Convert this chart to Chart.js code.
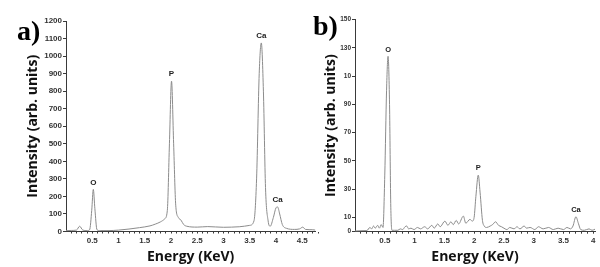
<!DOCTYPE html>
<html>
<head>
<meta charset="utf-8">
<script src="https://cdn.jsdelivr.net/npm/chart.js@4"></script>
<style>
  html,body{margin:0;padding:0;background:#fff;}
  #wrap{position:relative;width:600px;height:267px;overflow:hidden;}
  canvas{position:absolute;top:0;}
  #ca{left:0;}
  #cb{left:320px;}
  .lbl{position:absolute;font-family:'Liberation Serif','Times New Roman',serif;font-weight:bold;font-size:28px;color:#000;line-height:1;}
</style>
</head>
<body>
<div id="wrap">
  <canvas id="ca" width="320" height="267"></canvas>
  <canvas id="cb" width="280" height="267"></canvas>
  <div class="lbl" style="left:17px;top:17px;">a)</div>
  <div class="lbl" style="left:313px;top:12px;">b)</div>
</div>
<script>
// ---- Panel a data (energy keV, intensity) ----
const energyA = [0.00,0.10,0.20,0.26,0.32,0.40,0.45,0.49,0.52,0.55,0.59,0.65,0.80,1.00,1.20,1.40,1.60,1.70,1.80,1.88,1.93,1.97,2.01,2.05,2.09,2.14,2.19,2.24,2.30,2.50,2.70,3.00,3.30,3.50,3.58,3.63,3.68,3.72,3.76,3.80,3.85,3.89,3.95,4.00,4.03,4.07,4.12,4.20,4.35,4.45,4.51,4.56,4.70,4.75];
const intensityA = [5,6,8,30,8,5,10,120,240,130,10,5,5,8,14,22,32,42,55,72,120,500,857,500,150,80,65,40,30,25,28,24,27,35,60,300,900,1075,800,250,60,30,80,135,140,100,40,18,12,15,25,12,10,8];
// ---- Panel b data ----
const energyB = [0.00,0.10,0.20,0.25,0.28,0.31,0.34,0.38,0.41,0.44,0.47,0.50,0.53,0.555,0.58,0.60,0.62,0.66,0.72,0.76,0.80,0.84,0.87,0.90,0.94,0.99,1.05,1.10,1.17,1.22,1.29,1.33,1.39,1.43,1.51,1.56,1.61,1.65,1.70,1.74,1.82,1.86,1.93,1.97,2.00,2.03,2.07,2.10,2.14,2.17,2.21,2.27,2.31,2.36,2.41,2.46,2.52,2.55,2.60,2.67,2.72,2.77,2.84,2.88,2.94,3.02,3.08,3.16,3.25,3.33,3.41,3.50,3.56,3.62,3.66,3.71,3.75,3.79,3.85,3.93,3.98,4.04];
const intensityB = [0.5,0.7,0.8,3,2,4,2.5,4.5,2.5,5,3,40,100,124,90,20,1,1,1,2,1.5,3.5,4,2,2.5,1.5,3,2,3.5,2,4.5,2.5,5.5,3.5,7.5,4.5,7,5,8,5.5,11,6,8.7,7.5,10,25,40,28,8,4,3,4,5,7,4.5,3.5,2,1.5,3,2,3.5,2,4,2.5,3,1.5,3.5,2,3,1.5,2.5,1.5,3,2,4,10.6,6,1.5,1,2,1,2];
// ---- ticks ----
const yTicksA = [0,100,200,300,400,500,600,700,800,900,1000,1100,1200];
const xTicksA = [0.5,1,1.5,2,2.5,3,3.5,4,4.5];
const yTicksB = [0,10,30,50,70,90,110,130,150];
const yTickLabelsB = ['0','10','30','50','70','90','10','130','150'];
const xTicksB = [0.5,1,1.5,2,2.5,3,3.5,4];
// ---- peak labels ----
const peakNamesA = ['O','P','Ca','Ca'];
const peakEnergiesA = [0.52,2.01,3.72,4.03];
const peakNamesB = ['O','P','Ca'];
const peakEnergiesB = [0.555,2.07,3.71];
const xTitle = 'Energy (KeV)';
const yTitle = 'Intensity (arb. units)';

const AX = '#3a3a3a';
const TICKFONT = {family:"'Liberation Sans', Arial, sans-serif", weight:'bold', size:8};
const TITLEFONT = {family:"'Open Sans', sans-serif", weight:'bold', size:14};

function peakPlugin(names, energies, xs, ys, fontSize){
  return {
    id:'peaks',
    afterDatasetsDraw(chart){
      const ctx = chart.ctx, sx = chart.scales.x, sy = chart.scales.y;
      ctx.save();
      ctx.fillStyle = '#222';
      ctx.font = 'bold ' + fontSize + "px 'Liberation Sans', Arial, sans-serif";
      ctx.textAlign = 'center';
      ctx.textBaseline = 'bottom';
      names.forEach((n,i)=>{
        const e = energies[i];
        let best = 0, bd = 1e9;
        xs.forEach((x,j)=>{ const d = Math.abs(x-e); if (d<bd){bd=d;best=j;} });
        const px = sx.getPixelForValue(e);
        const py = sy.getPixelForValue(ys[best]);
        ctx.fillText(n, px, py - 3);
      });
      ctx.restore();
    }
  };
}

function makeChart(id, xs, ys, cfg){
  const minor = [];
  for (let i = 1; i <= Math.round(cfg.xmax*10); i++) minor.push(i/10);
  return new Chart(document.getElementById(id), {
    type:'line',
    data:{datasets:[{data: xs.map((x,i)=>({x:x, y:ys[i]})), borderColor:'#8c8c8c', borderWidth:1, pointRadius:0, cubicInterpolationMode:'monotone', fill:false}]},
    options:{
      responsive:false, animation:false, maintainAspectRatio:false,
      layout:{padding:{left:0, right:cfg.padRight, top:cfg.top, bottom:0}},
      plugins:{legend:{display:false}, tooltip:{enabled:false}},
      scales:{
        x:{type:'linear', min:0, max:cfg.xmax,
          border:{color:AX, width:1},
          grid:{drawOnChartArea:false, tickLength:2, color:AX},
          afterBuildTicks: s => { s.ticks = minor.map(v=>({value:v})); },
          ticks:{autoSkip:false, maxRotation:0, padding:2, color:'#333', font:TICKFONT,
            callback: v => { const r = Math.round(v*10)/10; return cfg.xTicks.includes(r) ? String(r) : ''; }},
          afterFit: s => { s.height = cfg.xAxisH; },
          title:{display:true, text:xTitle, color:'#111', font:TITLEFONT, padding:{top:0,bottom:cfg.xTitlePad}}
        },
        y:{type:'linear', min:0, max:cfg.ymax,
          border:{color:AX, width:1},
          grid:{drawOnChartArea:false, tickLength:3, color:AX},
          afterBuildTicks: s => { s.ticks = cfg.yTicks.map(v=>({value:v})); },
          ticks:{autoSkip:false, padding:1, color:'#333', font:cfg.yFont,
            callback: (v) => { const k = cfg.yTicks.indexOf(v); return cfg.yLabels ? cfg.yLabels[k] : String(v); }},
          afterFit: s => { s.width = cfg.yAxisW; },
          title:{display:true, text:yTitle, color:'#111', font:TITLEFONT, padding:{top:cfg.yTitlePad,bottom:0}}
        }
      }
    },
    plugins:[peakPlugin(cfg.names, cfg.energies, xs, ys, cfg.peakFont)]
  });
}

makeChart('ca', energyA, intensityA, {
  xmax:4.75, ymax:1200, yTicks:yTicksA, xTicks:xTicksA,
  padRight:1, top:21, xAxisH:35.5, yAxisW:66, xTitlePad:2, yTitlePad:25,
  yFont:{family:"'Liberation Sans', Arial, sans-serif", weight:'bold', size:8},
  names:peakNamesA, energies:peakEnergiesA, peakFont:8
});
makeChart('cb', energyB, intensityB, {
  xmax:4.03, ymax:150, yTicks:yTicksB, yLabels:yTickLabelsB, xTicks:xTicksB,
  padRight:5, top:19.5, xAxisH:35.3, yAxisW:35, xTitlePad:2, yTitlePad:2.6,
  yFont:{family:"'Liberation Sans', Arial, sans-serif", weight:'bold', size:6.5},
  names:peakNamesB, energies:peakEnergiesB, peakFont:7.5
});
</script>
</body>
</html>
